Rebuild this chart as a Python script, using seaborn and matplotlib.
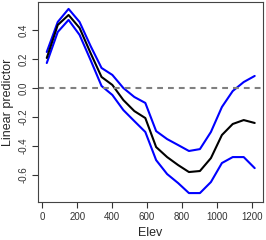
import seaborn as sns
import matplotlib.pyplot as plt
import pandas as pd

# elevation grid and the fitted smooth with its upper / lower band
elev = [25, 88, 150, 213, 276, 339, 401, 464, 527, 590,
        652, 715, 778, 840, 903, 966, 1029, 1091, 1154, 1217]
fit = [0.207, 0.434, 0.503, 0.414, 0.241, 0.076, 0.021, -0.083, -0.159, -0.207,
       -0.407, -0.476, -0.531, -0.579, -0.572, -0.483, -0.324, -0.248, -0.221, -0.241]
upper = [0.248, 0.455, 0.545, 0.455, 0.290, 0.138, 0.090, 0.000, -0.062, -0.103,
         -0.297, -0.352, -0.393, -0.434, -0.421, -0.303, -0.131, -0.021, 0.041, 0.083]
lower = [0.172, 0.386, 0.469, 0.366, 0.193, 0.014, -0.048, -0.152, -0.228, -0.303,
         -0.497, -0.593, -0.655, -0.724, -0.724, -0.648, -0.517, -0.476, -0.476, -0.552]

xticks = [0, 200, 400, 600, 800, 1000, 1200]
yticks = [-0.6, -0.4, -0.2, 0.0, 0.2, 0.4]

df = pd.DataFrame({"Elev": elev, "fit": fit, "upper": upper, "lower": lower})

sns.set_style("ticks")
plt.rcParams['font.family'] = ['Liberation Sans', 'DejaVu Sans']

fig = plt.figure(figsize=(2.66, 2.4), dpi=100)
ax = fig.add_axes([0.143, 0.158, 0.846, 0.834])

sns.lineplot(data=df, x="Elev", y="upper", color="#0000ff", lw=1.5, ax=ax)
sns.lineplot(data=df, x="Elev", y="lower", color="#0000ff", lw=1.5, ax=ax)
sns.lineplot(data=df, x="Elev", y="fit", color="black", lw=1.5, ax=ax)
ax.axhline(0, color="#808080", lw=1.5, ls=(0, (2.8, 2.4)))

ax.set_xlim(-25, 1265)
ax.set_ylim(-0.786, 0.593)
ax.set_xticks(xticks)
ax.set_xticklabels([str(t) for t in xticks])
ax.set_yticks(yticks)
ax.set_yticklabels(["%.1f" % t for t in yticks], rotation=90, va="center")
ax.tick_params(labelsize=7, length=4, width=0.8, colors="#333333", pad=3)
for s in ax.spines.values():
    s.set_color("#444444")
    s.set_linewidth(0.8)

ax.set_xlabel("Elev", fontsize=9, labelpad=4)
ax.set_ylabel("Linear predictor", fontsize=9, labelpad=3)

fig.savefig("out.png", dpi=100)
